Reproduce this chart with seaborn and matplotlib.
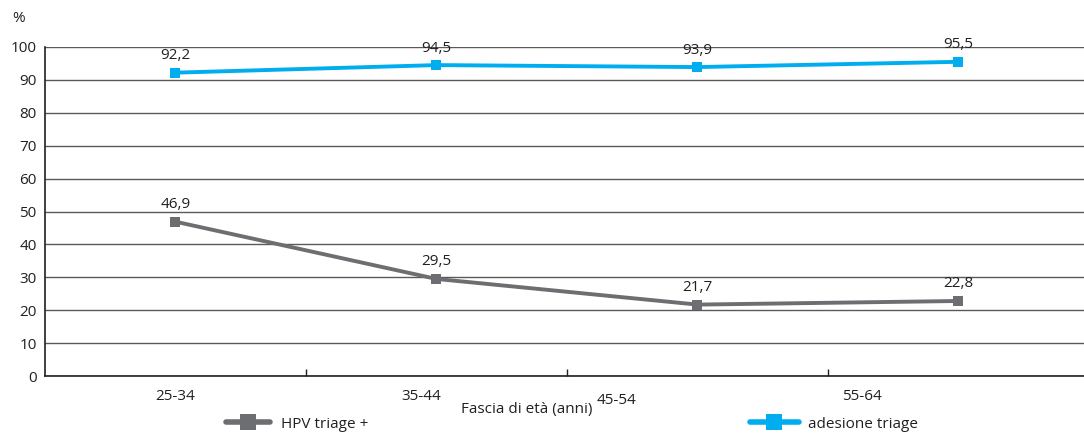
import matplotlib
matplotlib.use("Agg")
import matplotlib.pyplot as plt
from matplotlib.ticker import FixedLocator
from matplotlib.lines import Line2D
import seaborn as sns
import pandas as pd

# Age bands and percentages
age_bands = ["25-34", "35-44", "45-54", "55-64"]
hpv_positive = [46.9, 29.5, 21.7, 22.8]
triage_uptake = [92.2, 94.5, 93.9, 95.5]
series_names = ["HPV triage +", "adesione triage"]
y_ticks = [0, 10, 20, 30, 40, 50, 60, 70, 80, 90, 100]

GREY = "#6d6e71"
BLUE = "#00aeef"
TEXT = "#231f20"

sns.set_theme(style="white")
plt.rcParams["font.family"] = ["Open Sans", "DejaVu Sans"]

df = pd.DataFrame({
    "fascia": age_bands * 2,
    "valore": hpv_positive + triage_uptake,
    "serie": [series_names[0]] * 4 + [series_names[1]] * 4,
})

fig = plt.figure(figsize=(10.84, 4.33), dpi=100)
ax = fig.add_axes([45 / 1084, 57 / 433, 1044 / 1084, 329 / 433])

sns.lineplot(
    data=df, x="fascia", y="valore", hue="serie",
    palette={series_names[0]: GREY, series_names[1]: BLUE},
    marker="s", markersize=7.5, markeredgewidth=0, linewidth=2.8,
    ax=ax, legend=False, sort=False,
)

ax.set_xlim(-0.5, 3.5)
ax.set_ylim(0, 100)
ax.set_yticks(y_ticks)
ax.set_yticklabels([str(v) for v in y_ticks], fontsize=11, color=TEXT)
ax.yaxis.grid(True, color="#5a5a5a", linewidth=1)
ax.set_axisbelow(True)
ax.tick_params(axis="y", length=0, pad=6)

# Category labels sit beneath the axis, slightly staggered
ax.set_xticks([])
label_pos = [0.0, 0.94, 1.69, 2.63]
label_drop = [20, 20, 25, 20]
for lab, xp, dy in zip(age_bands, label_pos, label_drop):
    ax.annotate(lab, xy=(xp, 0), xycoords=("data", "axes fraction"),
                xytext=(0, -dy), textcoords="offset pixels",
                ha="center", va="center", fontsize=11, color=TEXT)

# Separator ticks between age bands
ax.xaxis.set_minor_locator(FixedLocator([0.5, 1.5, 2.5]))
ax.tick_params(axis="x", which="minor", direction="in", length=5,
               width=1, color=TEXT, bottom=True)

for side in ["top", "right"]:
    ax.spines[side].set_visible(False)
for side in ["left", "bottom"]:
    ax.spines[side].set_color(TEXT)
    ax.spines[side].set_linewidth(1.2)

ax.set_xlabel("")
ax.set_ylabel("")

# Value labels above the markers
for vals in (hpv_positive, triage_uptake):
    for i, v in enumerate(vals):
        ax.annotate(f"{v:.1f}".replace(".", ","), xy=(i, v),
                    xytext=(0, 17), textcoords="offset pixels",
                    ha="center", va="center", fontsize=11, color=TEXT)

fig.text(12 / 1084, 1 - 18 / 433, "%", fontsize=11, color=TEXT,
         ha="left", va="center")
fig.text(527 / 1084, 1 - 410 / 433, "Fascia di età (anni)", fontsize=11,
         color=TEXT, ha="center", va="center")

# Legend entries below the axis
h1 = Line2D([], [], color=GREY, lw=4, marker="s", markersize=11, markeredgewidth=0)
h2 = Line2D([], [], color=BLUE, lw=4, marker="s", markersize=11, markeredgewidth=0)
fig.legend([h1], [series_names[0]], loc="center left",
           bbox_to_anchor=(226 / 1084, 1 - 424 / 433), frameon=False,
           borderpad=0, borderaxespad=0, handlelength=2.9, handletextpad=0.7,
           prop={"size": 11}, labelcolor=TEXT)
fig.legend([h2], [series_names[1]], loc="center left",
           bbox_to_anchor=(750 / 1084, 1 - 424 / 433), frameon=False,
           borderpad=0, borderaxespad=0, handlelength=3.2, handletextpad=0.6,
           prop={"size": 11}, labelcolor=TEXT)

fig.savefig("out.png", dpi=100)
